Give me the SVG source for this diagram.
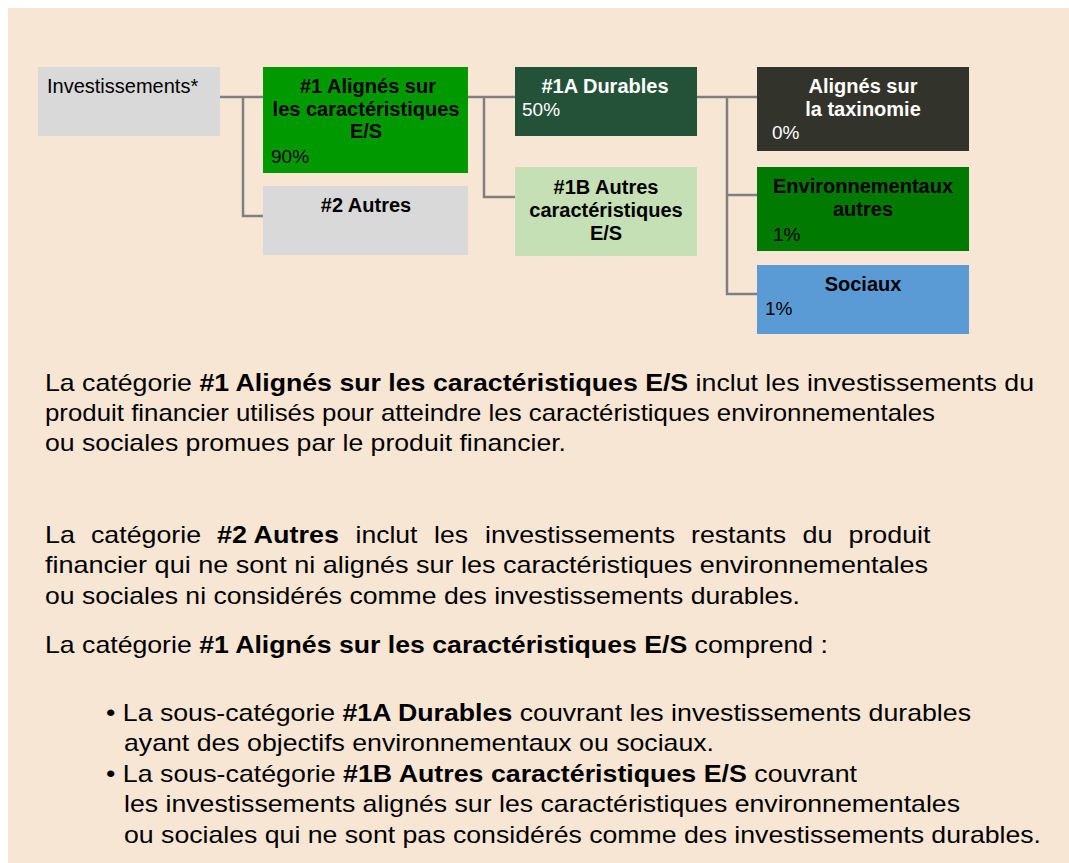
<svg xmlns="http://www.w3.org/2000/svg" width="1069" height="863" viewBox="0 0 1069 863">
<style>
text{font-family:"Liberation Sans",Arial,sans-serif;}
.n{font-size:20px;}
.q{font-size:19px;}
.b{font-weight:bold;}
.c{text-anchor:middle;}
.w{fill:#ffffff;}
.k{fill:#000000;}
.p{font-size:24px;fill:#000;}
.conn{fill:none;stroke:#7f7f7f;stroke-width:2.5;}
</style>
<rect x="0" y="0" width="1069" height="863" fill="#ffffff"/>
<rect x="8" y="8" width="1061" height="855" fill="#f8e6d4"/>
<g id="connectors">
<path class="conn" d="M220 97H263M243 97V216H263"/>
<path class="conn" d="M468 97H515M484 97V197H515"/>
<path class="conn" d="M697 97H757M727 97V294H757M727 195H757"/>
</g>
<g id="investissements">
<rect x="38" y="67" width="182" height="69" fill="#d9d9d9"/>
<text class="n k" x="47" y="93">Investissements*</text>
</g>
<g id="n1">
<rect x="263" y="67" width="205" height="106" fill="#009900"/>
<text class="n b c k" x="368" y="93">#1 Alignés sur</text>
<text class="n b c k" x="366" y="116">les caractéristiques</text>
<text class="n b c k" x="366" y="138">E/S</text>
<text class="q k" x="271" y="163">90%</text>
</g>
<g id="n2">
<rect x="263" y="186" width="205" height="69" fill="#d9d9d9"/>
<text class="n b c k" x="366" y="212">#2 Autres</text>
</g>
<g id="n1a">
<rect x="515" y="67" width="182" height="69" fill="#245239"/>
<text class="n b c w" x="605" y="93">#1A Durables</text>
<text class="q w" x="522" y="116">50%</text>
</g>
<g id="n1b">
<rect x="515" y="167" width="182" height="89" fill="#c5e0b4"/>
<text class="n b c k" x="606" y="194">#1B Autres</text>
<text class="n b c k" x="606" y="217">caractéristiques</text>
<text class="n b c k" x="606" y="240">E/S</text>
</g>
<g id="taxinomie">
<rect x="757" y="67" width="212" height="84" fill="#32332a"/>
<text class="n b c w" x="863" y="93">Alignés sur</text>
<text class="n b c w" x="863" y="116">la taxinomie</text>
<text class="q w" x="772" y="139">0%</text>
</g>
<g id="environnementaux">
<rect x="757" y="167" width="212" height="84" fill="#007a00"/>
<text class="n b c k" x="863" y="193">Environnementaux</text>
<text class="n b c k" x="863" y="216">autres</text>
<text class="q k" x="773" y="241">1%</text>
</g>
<g id="sociaux">
<rect x="757" y="265" width="212" height="69" fill="#5b9bd5"/>
<text class="n b c k" x="863" y="291">Sociaux</text>
<text class="q k" x="765" y="315">1%</text>
</g>
<g id="texte">
<text class="p" x="45" y="391" textLength="989" lengthAdjust="spacingAndGlyphs">La catégorie <tspan class="b">#1 Alignés sur les caractéristiques E/S</tspan> inclut les investissements du</text>
<text class="p" x="45" y="421" textLength="890" lengthAdjust="spacingAndGlyphs">produit financier utilisés pour atteindre les caractéristiques environnementales</text>
<text class="p" x="45" y="451" textLength="521" lengthAdjust="spacingAndGlyphs">ou sociales promues par le produit financier.</text>
<text class="p" y="543"><tspan x="45" textLength="30" lengthAdjust="spacingAndGlyphs">La</tspan><tspan x="91" textLength="110" lengthAdjust="spacingAndGlyphs">catégorie</tspan><tspan x="217" class="b" textLength="122" lengthAdjust="spacingAndGlyphs">#2 Autres</tspan><tspan x="355.5" textLength="62" lengthAdjust="spacingAndGlyphs">inclut</tspan><tspan x="434" textLength="34" lengthAdjust="spacingAndGlyphs">les</tspan><tspan x="485" textLength="190" lengthAdjust="spacingAndGlyphs">investissements</tspan><tspan x="691" textLength="95" lengthAdjust="spacingAndGlyphs">restants</tspan><tspan x="802.5" textLength="30" lengthAdjust="spacingAndGlyphs">du</tspan><tspan x="848.5" textLength="82" lengthAdjust="spacingAndGlyphs">produit</tspan></text>
<text class="p" x="45" y="573" textLength="883" lengthAdjust="spacingAndGlyphs">financier qui ne sont ni alignés sur les caractéristiques environnementales</text>
<text class="p" x="45" y="604" textLength="755" lengthAdjust="spacingAndGlyphs">ou sociales ni considérés comme des investissements durables.</text>
<text class="p" x="45" y="653" textLength="783" lengthAdjust="spacingAndGlyphs">La catégorie <tspan class="b">#1 Alignés sur les caractéristiques E/S</tspan> comprend :</text>
<text class="p" x="106" y="721" textLength="865" lengthAdjust="spacingAndGlyphs">• La sous-catégorie <tspan class="b">#1A Durables</tspan> couvrant les investissements durables</text>
<text class="p" x="124" y="751" textLength="590" lengthAdjust="spacingAndGlyphs">ayant des objectifs environnementaux ou sociaux.</text>
<text class="p" x="106" y="782" textLength="751" lengthAdjust="spacingAndGlyphs">• La sous-catégorie <tspan class="b">#1B Autres caractéristiques E/S</tspan> couvrant</text>
<text class="p" x="124" y="812" textLength="836" lengthAdjust="spacingAndGlyphs">les investissements alignés sur les caractéristiques environnementales</text>
<text class="p" x="124" y="843" textLength="917" lengthAdjust="spacingAndGlyphs">ou sociales qui ne sont pas considérés comme des investissements durables.</text>
</g>
</svg>
